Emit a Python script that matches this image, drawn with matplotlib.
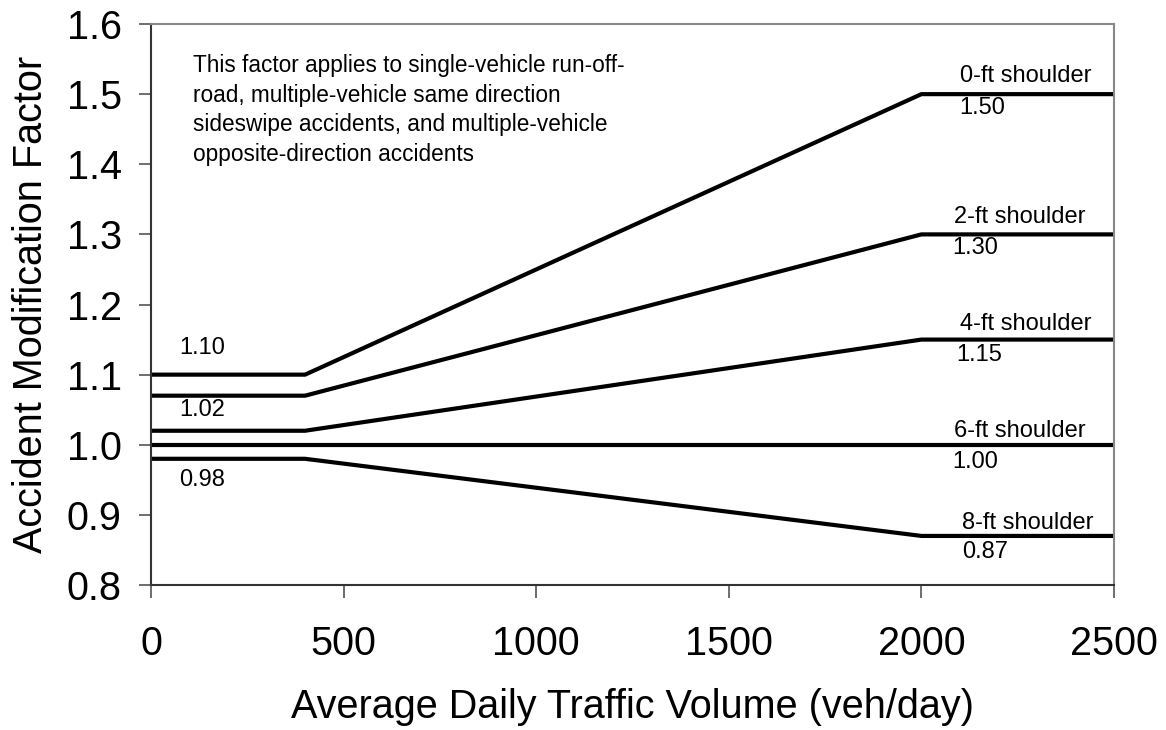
import matplotlib.pyplot as plt

plt.rcParams['font.family'] = ['Liberation Sans', 'DejaVu Sans']

# Data
adt = [0, 400, 2000, 2500]
amf_0ft = [1.10, 1.10, 1.50, 1.50]
amf_2ft = [1.07, 1.07, 1.30, 1.30]
amf_4ft = [1.02, 1.02, 1.15, 1.15]
amf_6ft = [1.00, 1.00, 1.00, 1.00]
amf_8ft = [0.98, 0.98, 0.87, 0.87]

series = [amf_0ft, amf_2ft, amf_4ft, amf_6ft, amf_8ft]
shoulder_labels = ['0-ft shoulder', '2-ft shoulder', '4-ft shoulder', '6-ft shoulder', '8-ft shoulder']
end_values = ['1.50', '1.30', '1.15', '1.00', '0.87']
start_values = ['1.10', '1.02', '0.98']

fig = plt.figure(figsize=(11.66, 7.3), dpi=100)
ax = fig.add_axes([0.1295, 0.1986, 0.8259, 0.7685])

for s in series:
    ax.plot(adt, s, color='black', linewidth=3, solid_capstyle='butt')

ax.set_xlim(0, 2500)
ax.set_ylim(0.8, 1.6)
ax.set_xticks([0, 500, 1000, 1500, 2000, 2500])
ax.set_yticks([0.8, 0.9, 1.0, 1.1, 1.2, 1.3, 1.4, 1.5, 1.6])
ax.set_yticklabels(['0.8', '0.9', '1.0', '1.1', '1.2', '1.3', '1.4', '1.5', '1.6'])
ax.tick_params(axis='both', labelsize=28.5, direction='out', length=9, width=1.2, color='#555555')
ax.tick_params(axis='x', pad=20)
ax.tick_params(axis='y', pad=12)

for side in ['left', 'bottom']:
    ax.spines[side].set_color('#333333')
    ax.spines[side].set_linewidth(1.5)
for side in ['top', 'right']:
    ax.spines[side].set_color('#888888')
    ax.spines[side].set_linewidth(1.5)

ax.set_xlabel('Average Daily Traffic Volume (veh/day)', fontsize=28.5, labelpad=18)
ax.set_ylabel('Accident Modification Factor', fontsize=28.5, labelpad=12)

# right-side labels
name_x = [2271, 2256, 2271, 2256, 2276]
name_y = [1.526, 1.325, 1.172, 1.020, 0.888]
val_x = [2098, 2080, 2090, 2080, 2105]
val_y = [1.480, 1.281, 1.128, 0.975, 0.847]
for lbl, x, y in zip(shoulder_labels, name_x, name_y):
    ax.text(x, y, lbl, fontsize=17, ha='center', va='center')
for v, x, y in zip(end_values, val_x, val_y):
    ax.text(x, y, v, fontsize=17, ha='left', va='center')

# left-side labels
start_y = [1.138, 1.050, 0.950]
for v, y in zip(start_values, start_y):
    ax.text(132, y, v, fontsize=17, ha='center', va='center')

ax.text(109, 1.557,
        'This factor applies to single-vehicle run-off-\n'
        'road, multiple-vehicle same direction\n'
        'sideswipe accidents, and multiple-vehicle\n'
        'opposite-direction accidents',
        fontsize=16.3, ha='left', va='top', linespacing=1.36)

fig.savefig('out.png', dpi=100)
